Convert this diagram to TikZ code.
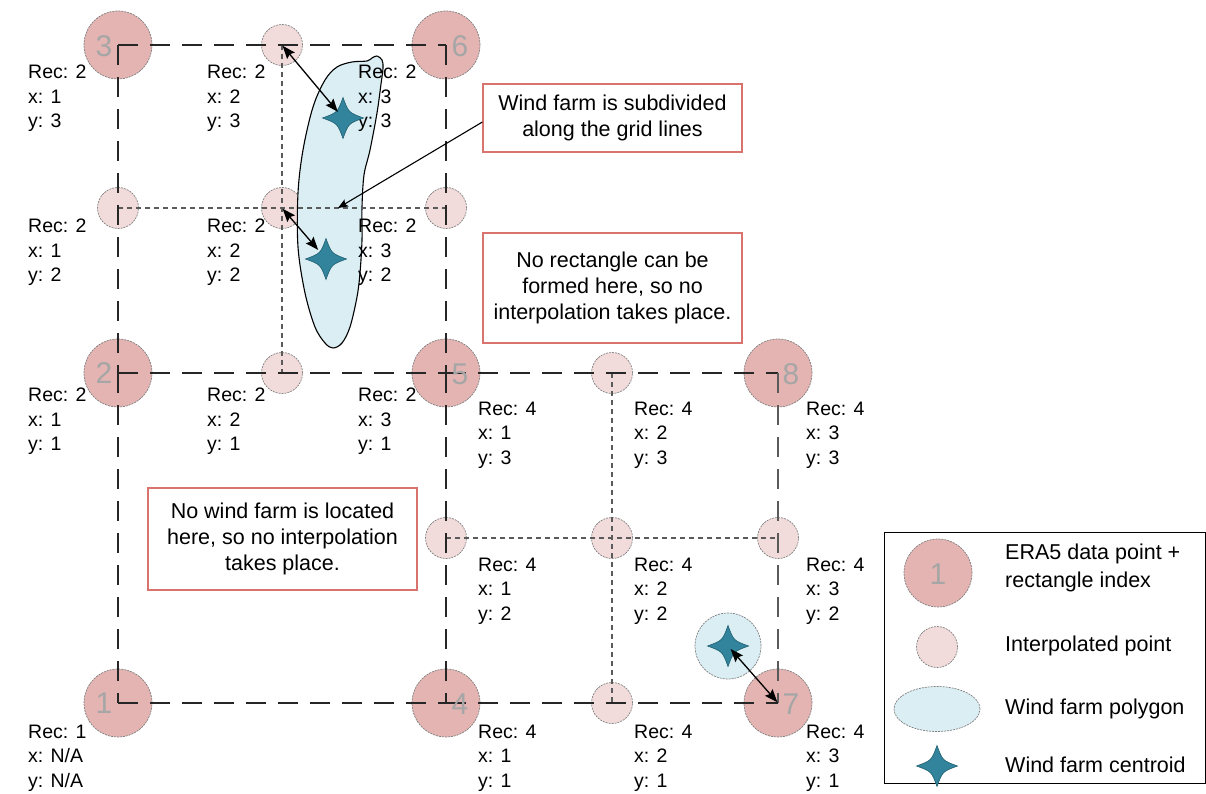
\documentclass[tikz,border=0pt]{standalone}
\usepackage{fontspec}
\setmainfont{Liberation Sans}
\usetikzlibrary{arrows.meta,shapes.geometric}

\definecolor{erafill}{HTML}{E3B4B2}
\definecolor{ipfill}{HTML}{F2DCDB}
\definecolor{ringline}{HTML}{7F7F7F}
\definecolor{farmfill}{HTML}{DAEEF3}
\definecolor{starfill}{HTML}{31849B}
\definecolor{starline}{HTML}{215E6F}
\definecolor{digitgray}{HTML}{A6A6A6}
\definecolor{noteline}{HTML}{D9736E}
\definecolor{gridline}{HTML}{262626}
\definecolor{subline}{HTML}{5A5A5A}

\tikzset{
  centroid/.pic={
    \fill[starfill,draw=starline,line width=0.6pt]
      (0,-20.5) .. controls (5.5,-5.5) .. (20.5,0)
      .. controls (5.5,5.5) .. (0,20.5)
      .. controls (-5.5,5.5) .. (-20.5,0)
      .. controls (-5.5,-5.5) .. (0,-20.5) -- cycle;
  }
}

\begin{document}
\begin{tikzpicture}[x=1pt,y=-1pt,
  ring/.style={circle,draw=ringline,line width=0.7pt,dash pattern=on 2pt off 1pt,inner sep=0pt},
  erapt/.style={ring,fill=erafill,minimum size=68pt},
  ippt/.style={ring,fill=ipfill,minimum size=41pt},
  farmpt/.style={ring,fill=farmfill,minimum size=66pt},
  digit/.style={text=digitgray,font=\fontsize{30}{30}\selectfont,inner sep=0pt},
  mainline/.style={draw=gridline,line width=1.5pt,dash pattern=on 20pt off 12pt},
  subgrid/.style={draw=subline,line width=1.1pt,dash pattern=on 5pt off 4pt},
  reclabel/.style={anchor=west,align=left,inner sep=0pt,font=\fontsize{19.5}{24.5}\selectfont},
  note/.style={draw=noteline,line width=1.2pt,align=center,inner sep=0pt,font=\fontsize{21.5}{26}\selectfont},
  legtext/.style={anchor=west,align=left,inner sep=0pt,font=\fontsize{21.5}{28}\selectfont},
  link/.style={draw=black,line width=1.3pt},
  twoway/.style={link,{Stealth[length=13pt,width=10pt,inset=2pt]}-{Stealth[length=13pt,width=10pt,inset=2pt]}},
  oneway/.style={link,line width=1.1pt,-{Stealth[length=10pt,width=8pt,inset=2pt]}}
]
\useasboundingbox (0,0) rectangle (1206,794);

% ERA5 data points
\node[erapt] (era1) at (118,703) {};
\node[erapt] (era2) at (118,373) {};
\node[erapt] (era3) at (118,45) {};
\node[erapt] (era4) at (446,703) {};
\node[erapt] (era5) at (446,373) {};
\node[erapt] (era6) at (446,45) {};
\node[erapt] (era7) at (778,703) {};
\node[erapt] (era8) at (778,373) {};

% interpolated points
\node[ippt] (ipA) at (282,45) {};
\node[ippt] (ipB) at (118,208) {};
\node[ippt] (ipC) at (282,208) {};
\node[ippt] (ipD) at (446,208) {};
\node[ippt] (ipE) at (282,373) {};
\node[ippt] (ipF) at (612,373) {};
\node[ippt] (ipG) at (446,538) {};
\node[ippt] (ipH) at (612,538) {};
\node[ippt] (ipI) at (778,538) {};
\node[ippt] (ipJ) at (612,703) {};

% small wind farm around its centroid
\node[farmpt] (farmB) at (728,646) {};

% elongated wind farm polygon
\filldraw[fill=farmfill,draw=black,line width=1.1pt]
  plot[smooth cycle,tension=0.55] coordinates {
    (377,56) (382,60) (383,68) (381,84) (377,113) (370,150) (364,175)
    (362,207) (362,240) (360,273) (357,297) (350,327) (342,343) (333,348)
    (325,343) (315,327) (305,293) (298,247) (298,193) (303,150) (313,107)
    (325,80) (337,67) (352,62) (367,61) (372,58)};

% sub-grid through the interpolated points
\draw[subgrid] (ipA.center) -- (ipE.center);
\draw[subgrid] (ipB.center) -- (ipD.center);
\draw[subgrid] (ipF.center) -- (ipJ.center);
\draw[subgrid] (ipG.center) -- (ipI.center);

% ERA5 grid rectangles
\draw[mainline] (era3.center) -- (era6.center);
\draw[mainline] (era3.center) -- (era2.center);
\draw[mainline] (era6.center) -- (era5.center);
\draw[mainline] (era2.center) -- (era5.center);
\draw[mainline] (era2.center) -- (era1.center);
\draw[mainline] (era1.center) -- (era4.center);
\draw[mainline] (era5.center) -- (era4.center);
\draw[mainline] (era5.center) -- (era8.center);
\draw[mainline,draw=subline] (era8.center) -- (era7.center);
\draw[mainline] (era4.center) -- (era7.center);

% rectangle indices
\node[digit] (d1) at (104,703) {1};
\node[digit] (d2) at (104,373) {2};
\node[digit] (d3) at (104,46) {3};
\node[digit] (d4) at (460,704) {4};
\node[digit] (d5) at (460,374) {5};
\node[digit] (d6) at (460,46) {6};
\node[digit] (d7) at (791,704) {7};
\node[digit] (d8) at (791,374) {8};

% rectangle / position labels
\node[reclabel] (r23a) at (28,98.5) {Rec: 2\\x: 1\\y: 3};
\node[reclabel] (r23b) at (207,98.5) {Rec: 2\\x: 2\\y: 3};
\node[reclabel] (r23c) at (358,98.5) {Rec: 2\\x: 3\\y: 3};
\node[reclabel] (r22a) at (28,252.5) {Rec: 2\\x: 1\\y: 2};
\node[reclabel] (r22b) at (207,252.5) {Rec: 2\\x: 2\\y: 2};
\node[reclabel] (r22c) at (358,252.5) {Rec: 2\\x: 3\\y: 2};
\node[reclabel] (r21a) at (28,421.5) {Rec: 2\\x: 1\\y: 1};
\node[reclabel] (r21b) at (207,421.5) {Rec: 2\\x: 2\\y: 1};
\node[reclabel] (r21c) at (358,421.5) {Rec: 2\\x: 3\\y: 1};
\node[reclabel] (r43a) at (478,435) {Rec: 4\\x: 1\\y: 3};
\node[reclabel] (r43b) at (634,435) {Rec: 4\\x: 2\\y: 3};
\node[reclabel] (r43c) at (806,435) {Rec: 4\\x: 3\\y: 3};
\node[reclabel] (r42a) at (478,591) {Rec: 4\\x: 1\\y: 2};
\node[reclabel] (r42b) at (634,591) {Rec: 4\\x: 2\\y: 2};
\node[reclabel] (r42c) at (806,591) {Rec: 4\\x: 3\\y: 2};
\node[reclabel] (r41a) at (478,758) {Rec: 4\\x: 1\\y: 1};
\node[reclabel] (r41b) at (634,758) {Rec: 4\\x: 2\\y: 1};
\node[reclabel] (r41c) at (806,758) {Rec: 4\\x: 3\\y: 1};
\node[reclabel] (r1) at (28,758) {Rec: 1\\x: N/A\\y: N/A};

% wind farm centroids
\coordinate (starA) at (343,118);
\coordinate (starB) at (326,259);
\coordinate (starC) at (728,646);
\pic at (starA) {centroid};
\pic at (starB) {centroid};
\pic at (starC) {centroid};

% explanatory notes
\node[note,minimum width=259pt,minimum height=68pt] (noteA) at (612.5,118)
  {Wind farm is subdivided\\along the grid lines};
\node[note,minimum width=259pt,minimum height=110pt] (noteB) at (612.5,288)
  {No rectangle can be\\formed here, so no\\interpolation takes place.};
\node[note,minimum width=269pt,minimum height=102pt] (noteC) at (282.5,539)
  {No wind farm is located\\here, so no interpolation\\takes place.};

% links between points and centroids
\coordinate (split) at (338,208);
\draw[twoway,shorten <=1pt,shorten >=8pt] (ipA.center) -- (starA);
\draw[twoway,shorten <=1pt,shorten >=12pt] (ipC.center) -- (starB);
\draw[twoway,shorten <=4pt,shorten >=1pt] (starC) -- (era7.center);
\draw[oneway] ([yshift=-4pt]noteA.west) -- (split);

% legend
\node[draw=black,line width=1pt,minimum width=320.5pt,minimum height=251pt,inner sep=0pt,anchor=north west] (legend) at (884,532) {};
\node[erapt] (legEra) at (938,573) {};
\node[digit] (legDigit) at (938,574) {1};
\node[ippt] (legIp) at (937,647) {};
\node[ring,ellipse,fill=farmfill,minimum width=86pt,minimum height=45pt] (legFarm) at (937,709) {};
\coordinate (legStar) at (937,766);
\pic at (legStar) {centroid};
\node[legtext] (legT1) at (1005,568) {ERA5 data point +\\rectangle index};
\node[legtext] (legT2) at (1005,646) {Interpolated point};
\node[legtext] (legT3) at (1005,709) {Wind farm polygon};
\node[legtext] (legT4) at (1005,765) {Wind farm centroid};
\end{tikzpicture}
\end{document}
